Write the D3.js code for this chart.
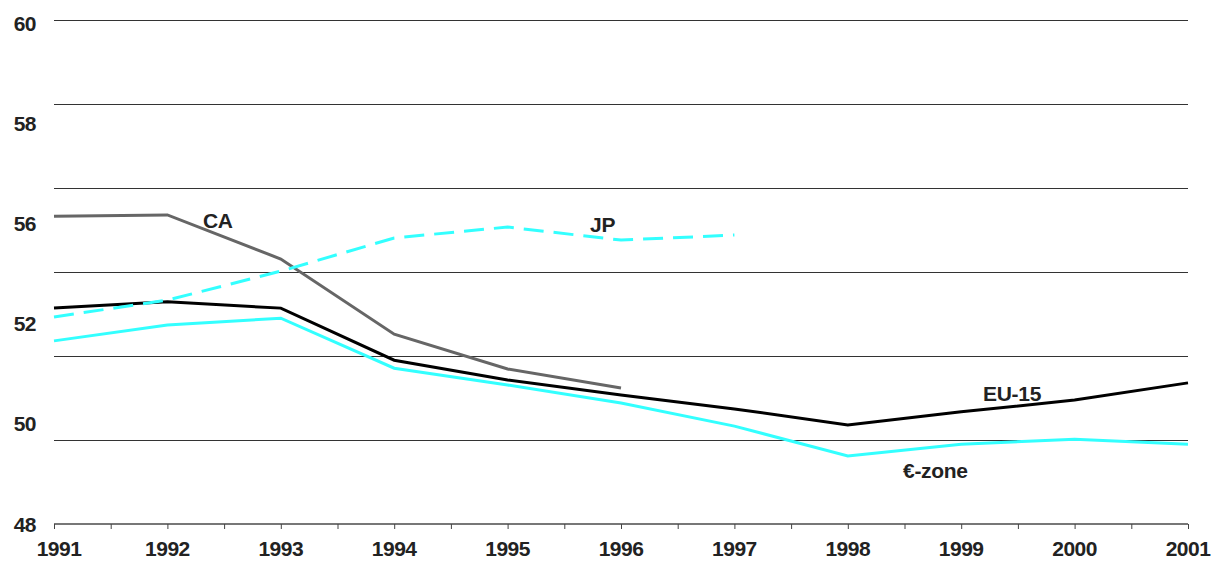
<!DOCTYPE html>
<html>
<head>
<meta charset="utf-8">
<script src="https://cdn.jsdelivr.net/npm/d3@7"></script>
<style>
  body { margin: 0; background: #fff; }
  text { font-family: "Liberation Sans", Arial, sans-serif; font-weight: bold; fill: #222; }
</style>
</head>
<body>
<svg id="chart" width="1211" height="577"></svg>
<script>
// years on the x axis
const years = [1991, 1992, 1993, 1994, 1995, 1996, 1997, 1998, 1999, 2000, 2001];

// series values
const eu15  = [53.14, 53.29, 53.14, 51.90, 51.43, 51.07, 50.74, 50.36, 50.67, 50.95, 51.36];
const ezone = [52.36, 52.74, 52.90, 51.71, 51.31, 50.88, 50.33, 49.62, 49.90, 50.02, 49.90];
const ca    = [55.33, 55.36, 54.31, 52.52, 51.69, 51.24];
const jp    = [52.93, 53.33, 54.02, 54.81, 55.07, 54.76, 54.88];

// gridline values and y tick labels (labels as printed in the original)
const gridValues = [60, 58, 56, 54, 52, 50];
const yLabels = ["60", "58", "56", "52", "50", "48"];

const svg = d3.select('#chart');

const x = d3.scaleLinear().domain([1991, 2001]).range([54, 1188]);
const y = d3.scaleLinear().domain([48, 60]).range([524, 20]);
const yLab = d3.scalePoint().domain(yLabels).range([23, 524]);

// horizontal gridlines
svg.append('g')
    .selectAll('line')
    .data(gridValues)
    .join('line')
    .attr('x1', x(1991)).attr('x2', x(2001))
    .attr('y1', d => y(d)).attr('y2', d => y(d))
    .attr('stroke', '#333')
    .attr('stroke-width', 1)
    .attr('shape-rendering', 'crispEdges');

// y labels
svg.append('g')
    .selectAll('text')
    .data(yLabels)
    .join('text')
    .attr('x', 36)
    .attr('y', d => yLab(d))
    .attr('dy', '0.36em')
    .attr('text-anchor', 'end')
    .attr('font-size', 21)
    .attr('letter-spacing', -0.5)
    .text(d => d);

// x axis with half-year ticks
const xAxis = d3.axisBottom(x)
    .tickValues(d3.range(1991, 2001.01, 0.5))
    .tickSize(5)
    .tickFormat('');
const gx = svg.append('g')
    .attr('transform', `translate(0,${y(48)})`)
    .call(xAxis);
gx.select('.domain').attr('stroke', '#777').attr('stroke-width', 2).attr('d', `M${x(1991)},0H${x(2001)}`);
gx.selectAll('.tick line').attr('stroke', '#444');

// year labels
svg.append('g')
    .selectAll('text')
    .data(years)
    .join('text')
    .attr('x', d => x(d) + (d === 1991 ? 5 : 0))
    .attr('y', 556)
    .attr('text-anchor', 'middle')
    .attr('font-size', 21)
    .attr('letter-spacing', -0.5)
    .text(d => d);

const line = d3.line()
    .x((d, i) => x(years[i]))
    .y(d => y(d));

// CA
svg.append('path')
    .attr('d', line(ca))
    .attr('fill', 'none')
    .attr('stroke', '#666')
    .attr('stroke-width', 3);

// €-zone
svg.append('path')
    .attr('d', line(ezone))
    .attr('fill', 'none')
    .attr('stroke', '#33ffff')
    .attr('stroke-width', 3);

// EU-15
svg.append('path')
    .attr('d', line(eu15))
    .attr('fill', 'none')
    .attr('stroke', '#000')
    .attr('stroke-width', 3);

// JP (dashed)
svg.append('path')
    .attr('d', line(jp))
    .attr('fill', 'none')
    .attr('stroke', '#33ffff')
    .attr('stroke-width', 3)
    .attr('stroke-dasharray', '20,10');

// series labels
const seriesLabels = [
    { text: 'CA', x: 203, y: 228 },
    { text: 'JP', x: 590, y: 232 },
    { text: 'EU-15', x: 983, y: 401 },
    { text: '€-zone', x: 903, y: 478 }
];
svg.append('g')
    .selectAll('text')
    .data(seriesLabels)
    .join('text')
    .attr('x', d => d.x)
    .attr('y', d => d.y)
    .attr('font-size', 21)
    .attr('letter-spacing', -0.3)
    .text(d => d.text);
</script>
</body>
</html>
